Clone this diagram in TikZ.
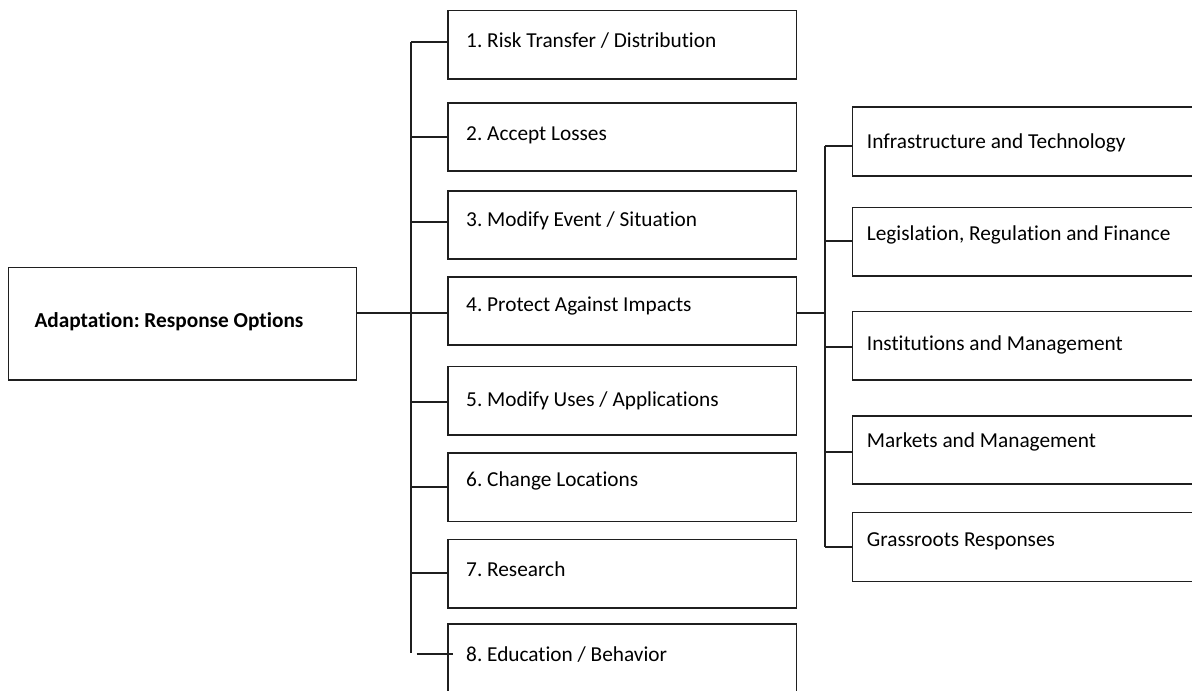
\documentclass[tikz,border=0pt]{standalone}
\usepackage{fontspec}
\setmainfont{Carlito}[Ligatures=NoCommon]
\frenchspacing
\begin{document}
\begin{tikzpicture}[x=1pt,y=-1pt,
  box/.style={draw=black!88, line width=1.7pt, rectangle, inner sep=0pt, anchor=north west},
  lbl/.style={anchor=base west, inner sep=0pt, font=\fontsize{21.3}{25}\selectfont, text=black},
  conn/.style={draw=black!88, line width=1.7pt}]
\useasboundingbox (0,0) rectangle (1192,691);
\clip (0,0) rectangle (1192,691);
\fill[white] (0,0) rectangle (1192,691);
% main box
\node[box, minimum width=348pt, minimum height=112.6pt] (main) at (7.7,266.7) {};
\node[lbl, font=\fontsize{21.3}{25}\selectfont\bfseries] (tmain) at (34.3,327.3) {Adaptation: Response Options};
% middle boxes
\foreach \n/\t/\b in {1/9.7/78.3, 2/102/170, 3/190/258, 4/276/344, 5/365.7/434.3, 6/452.3/520.7, 7/538.7/607.3, 8/623.3/692}{
  \pgfmathsetmacro{\h}{\b-\t}
  \node[box, minimum width=348.4pt, minimum height=\h pt] (m\n) at (447.3,\t) {};
}
\node[lbl] (t1) at (466,47.3) {1. Risk Transfer / Distribution};
\node[lbl] (t2) at (466,140) {2. Accept Losses};
\node[lbl] (t3) at (466,226.7) {3. Modify Event / Situation};
\node[lbl] (t4) at (466,311.7) {4. Protect Against Impacts};
\node[lbl] (t5) at (466,406) {5. Modify Uses / Applications};
\node[lbl] (t6) at (466,486.7) {6. Change Locations};
\node[lbl] (t7) at (466,576.7) {7. Research};
\node[lbl] (t8) at (466,661) {8. Education / Behavior};
% right boxes
\foreach \n/\t/\b in {1/106/175, 2/206.7/275, 3/310.7/379.3, 4/415/483.3, 5/511.7/580.7}{
  \pgfmathsetmacro{\h}{\b-\t}
  \node[box, minimum width=360pt, minimum height=\h pt] (r\n) at (851.7,\t) {};
}
\node[lbl] (u1) at (866.7,148.3) {Infrastructure and Technology};
\node[lbl] (u2) at (866.7,240) {Legislation, Regulation and Finance};
\node[lbl] (u3) at (866.7,350) {Institutions and Management};
\node[lbl] (u4) at (866.7,447.3) {Markets and Management};
\node[lbl] (u5) at (866.7,546) {Grassroots Responses};
% left spine
\coordinate (s1) at (411,41.7);
\coordinate (s2) at (411,136.7);
\coordinate (s3) at (411,222);
\coordinate (s4) at (411,313);
\coordinate (s5) at (411,402.3);
\coordinate (s6) at (411,486.7);
\coordinate (s7) at (411,573.3);
\coordinate (s8) at (411,653.3);
\coordinate (s8b) at (416.7,654.3);
\draw[conn] (s1) -- (s8);
\draw[conn] (main.east |- s4) -- (s4);
\foreach \n in {1,...,7}{ \draw[conn] (s\n) -- (s\n -| m\n.west); }
\draw[conn] (s8b) -- ([xshift=6pt]s8b -| m8.west);
% right spine
\coordinate (q1) at (825,146);
\coordinate (q2) at (825,240.7);
\coordinate (q3) at (825,346.7);
\coordinate (q4) at (825,451.7);
\coordinate (q5) at (825,546.7);
\coordinate (qj) at (825,312.7);
\draw[conn] (q1) -- (q5);
\draw[conn] (m4.east |- qj) -- (qj);
\foreach \n in {1,...,5}{ \draw[conn] (q\n) -- (q\n -| r\n.west); }
\end{tikzpicture}
\end{document}
